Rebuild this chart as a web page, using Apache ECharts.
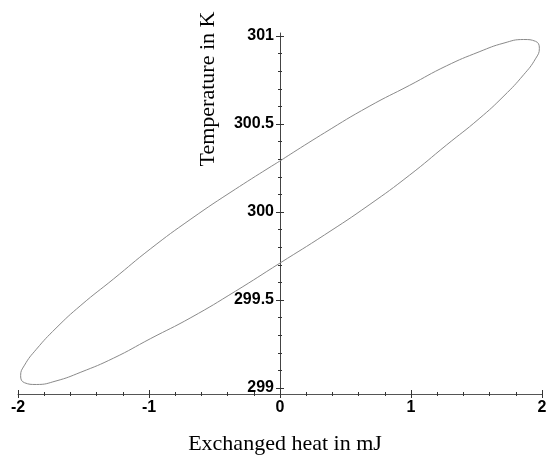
<!DOCTYPE html>
<html><head><meta charset="utf-8">
<script src="https://cdn.jsdelivr.net/npm/echarts@6/dist/echarts.min.js"></script>
<style>html,body{margin:0;padding:0;background:#fff}#c{width:547px;height:455px}</style>
</head><body><div id="c"></div>
<script>
// Exchanged heat (mJ) and temperature (K) read along the loop
const heatMJ = [0, 0.34, 0.68, 0.99, 1.27, 1.52, 1.71, 1.86, 1.95, 1.98, 1.95, 1.86, 1.71, 1.52, 1.27, 0.99, 0.68, 0.34,
  0, -0.34, -0.68, -0.99, -1.27, -1.52, -1.71, -1.86, -1.95, -1.98, -1.95, -1.86, -1.71, -1.52, -1.27, -0.99, -0.68, -0.34, 0];
const tempK = [300.29, 300.45, 300.60, 300.72, 300.83, 300.91, 300.96, 300.98, 300.97, 300.93, 300.87, 300.78, 300.66, 300.53, 300.38, 300.21, 300.04, 299.87,
  299.71, 299.55, 299.40, 299.28, 299.17, 299.09, 299.04, 299.02, 299.03, 299.07, 299.13, 299.22, 299.34, 299.47, 299.62, 299.79, 299.96, 300.13, 300.29];
const xMajorTicks = [-2, -1, 0, 1, 2];
const xMinorTicks = [-1.8, -1.6, -1.4, -1.2, -0.8, -0.6, -0.4, -0.2, 0.2, 0.4, 0.6, 0.8, 1.2, 1.4, 1.6, 1.8];
const yMajorTicks = [299, 299.5, 300, 300.5, 301];
const yMinorTicks = [299.1, 299.2, 299.3, 299.4, 299.6, 299.7, 299.8, 299.9, 300.1, 300.2, 300.3, 300.4, 300.6, 300.7, 300.8, 300.9];
const xTitle = 'Exchanged heat in mJ';
const yTitle = 'Temperature in K';

const X_MIN = -2, X_MAX = 2, Y_MIN = 298.966, Y_MAX = 301.017;
const GRID_LEFT = 18, GRID_RIGHT = 5;
const plotW = 547 - GRID_LEFT - GRID_RIGHT;
const yAxisShift = -plotW * (0 - X_MIN) / (X_MAX - X_MIN); // place y axis where heat = 0
const labelFont = { color: '#000', fontFamily: 'Liberation Sans', fontWeight: 'bold', fontSize: 16 };
const gridRect = { left: GRID_LEFT, right: GRID_RIGHT, top: 33, bottom: 61, outerBoundsMode: 'none' };

function xAx(gi, ticks, inside, len, withLine, withLabel) {
  return {
    type: 'value', gridIndex: gi, min: X_MIN, max: X_MAX, position: 'bottom',
    axisLine: { show: withLine, onZero: false, lineStyle: { color: '#555', width: 1 } },
    axisTick: { show: true, customValues: ticks, inside: inside, length: len, lineStyle: { color: '#333', width: 1 } },
    axisLabel: withLabel ? Object.assign({ show: true, customValues: xMajorTicks, margin: 6 }, labelFont) : { show: false },
    splitLine: { show: false }, minorTick: { show: false }
  };
}
function yAx(gi, ticks, inside, len, withLine, withLabel) {
  return {
    type: 'value', gridIndex: gi, min: Y_MIN, max: Y_MAX, position: 'left', offset: yAxisShift,
    axisLine: { show: withLine, onZero: false, lineStyle: { color: '#444', width: 1 } },
    axisTick: { show: true, customValues: ticks, inside: inside, length: len, lineStyle: { color: '#333', width: 1 } },
    axisLabel: withLabel ? Object.assign({ show: true, customValues: yMajorTicks, margin: 6,
      formatter: v => String(Math.round(v * 10) / 10) }, labelFont) : { show: false },
    splitLine: { show: false }, minorTick: { show: false }
  };
}

const chart = echarts.init(document.getElementById('c'), null, { renderer: 'canvas' });
chart.setOption({
  animation: false,
  backgroundColor: '#fff',
  grid: [0, 1, 2, 3].map(() => Object.assign({}, gridRect)),
  xAxis: [
    xAx(0, xMajorTicks, false, 4, true, true),
    xAx(1, xMajorTicks, true, 4, false, false),
    xAx(2, xMinorTicks, false, 2, false, false),
    xAx(3, xMinorTicks, true, 2, false, false)
  ],
  yAxis: [
    yAx(0, yMajorTicks, false, 4, true, true),
    yAx(1, yMajorTicks, true, 4, false, false),
    yAx(2, yMinorTicks, false, 2, false, false),
    yAx(3, yMinorTicks, true, 2, false, false)
  ],
  graphic: [
    { type: 'text', x: 285, y: 444, style: { text: xTitle, fontFamily: 'Liberation Serif', fontSize: 22, fill: '#000', align: 'center', verticalAlign: 'middle' } },
    { type: 'text', x: 208, y: 89, rotation: Math.PI / 2, style: { text: yTitle, fontFamily: 'Liberation Serif', fontSize: 22, fill: '#000', align: 'center', verticalAlign: 'middle' } }
  ],
  series: [{
    type: 'line', xAxisIndex: 0, yAxisIndex: 0,
    data: heatMJ.map((h, i) => [h, tempK[i]]),
    smooth: true, showSymbol: false, symbol: 'none',
    lineStyle: { color: '#8a8a8a', width: 1 }
  }]
});
</script></body></html>
